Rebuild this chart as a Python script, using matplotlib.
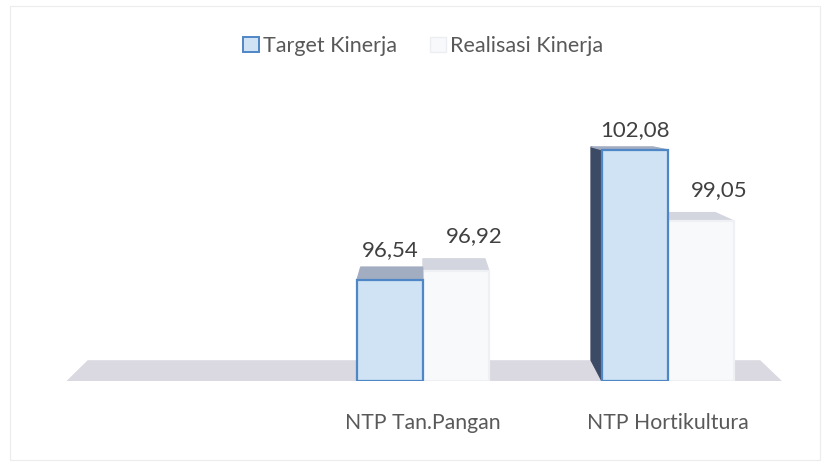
import matplotlib.pyplot as plt
import numpy as np
from matplotlib.patches import Patch, Polygon, Rectangle

categories = ["NTP Tan.Pangan", "NTP Hortikultura"]
target = [96.54, 102.08]
realisasi = [96.92, 99.05]
series_names = ["Target Kinerja", "Realisasi Kinerja"]
value_labels_target = ["96,54", "102,08"]
value_labels_real = ["96,92", "99,05"]

plt.rcParams["font.family"] = ["Lato", "DejaVu Sans"]
TEXT = "#595959"

fig = plt.figure(figsize=(8.27, 4.66), dpi=100)
W, H = 827, 466
ax = fig.add_axes([55.5 / W, (H - 381) / H, 735 / W, 281 / H])
ymin, ymax = 92.24, 104.2
ax.set_xlim(-1.5, 1.5)
ax.set_ylim(ymin, ymax)
ax.axis("off")

# light frame around the chart area
fig.patches.append(Rectangle((10 / W, 6 / H), 810 / W, 454 / H, transform=fig.transFigure,
                             fill=False, edgecolor="#ececec", linewidth=0.8))

fig.canvas.draw()
to_px = ax.transData
to_data = ax.transData.inverted()
VX, VY = 420, H - 111  # vanishing point in display pixels
KX, KY = 0.06, 0.077


def back(x, y):
    px, py = to_px.transform((x, y))
    return to_data.transform((px + (VX - px) * KX, py + (VY - py) * KY))


def poly(pts, **kw):
    ax.add_patch(Polygon(pts, closed=True, **kw))


# floor
fx0, fx1 = -1.455, 1.465
poly([(fx0, ymin), (fx1, ymin), back(fx1, ymin), back(fx0, ymin)],
     facecolor="#dad8e1", edgecolor="none", zorder=1)

x = np.arange(len(categories))
bw = 0.27


def bar3d(xc, value, front, edge, top, side, z):
    x0, x1 = xc - bw / 2, xc + bw / 2
    tl, tr = (x0, value), (x1, value)
    btl, btr = back(x0, value), back(x1, value)
    bbl = back(x0, ymin)
    # left side face, visible when the bar is right of the vanishing point
    if to_px.transform((x0, value))[0] > VX + 40:
        poly([(x0, ymin), tl, btl, bbl], facecolor=side, edgecolor=side, linewidth=0.8, zorder=z)
    poly([tl, tr, btr, btl], facecolor=top, edgecolor=top, linewidth=0.8, zorder=z)
    ax.add_patch(Rectangle((x0, ymin), bw, value - ymin, facecolor=front, edgecolor=edge,
                           linewidth=1.6, zorder=z + 0.5))
    return max(btl[1], btr[1], value)


for i in range(len(categories)):
    top_r = bar3d(x[i] + bw / 2, realisasi[i], "#f8f9fb", "#eef0f4", "#d4d6df", "#e0e2e8", 2)
    top_t = bar3d(x[i] - bw / 2, target[i], "#cfe3f4", "#4f86c6", "#a2adc1", "#3d4a66", 3)
    ax.annotate(value_labels_target[i], (x[i] - bw / 2, top_t), xytext=(0, 5), textcoords="offset points",
                ha="center", va="bottom", fontsize=16, color="#404040")
    ax.annotate(value_labels_real[i], (x[i] + bw / 2, top_r), xytext=(13, 9), textcoords="offset points",
                ha="center", va="bottom", fontsize=16, color="#404040")
    ax.annotate(categories[i], (x[i], ymin), xytext=(0, -30), textcoords="offset points",
                ha="center", va="center", fontsize=15.3, color=TEXT)

handles = [Patch(facecolor="#cfe3f4", edgecolor="#4f86c6", linewidth=1.4),
           Patch(facecolor="#f8f9fb", edgecolor="#eceef2", linewidth=1.0)]
fig.legend(handles, series_names, loc="center", bbox_to_anchor=(423 / W, 1 - 46 / H), ncol=2,
           frameon=False, fontsize=15.5, handlelength=0.75, handleheight=0.75, handletextpad=0.2,
           columnspacing=1.5, labelcolor=TEXT)

fig.savefig("out.png", dpi=100)
